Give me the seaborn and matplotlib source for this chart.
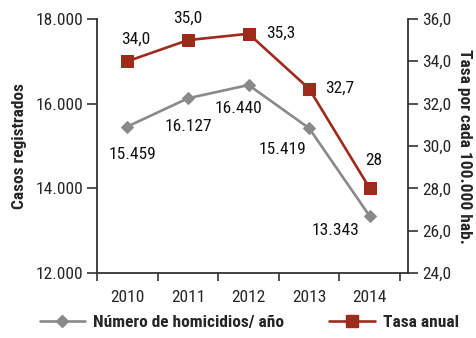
import matplotlib
matplotlib.use("Agg")
import matplotlib.pyplot as plt
import matplotlib.ticker as mticker
from matplotlib.lines import Line2D
import seaborn as sns
import pandas as pd

years = ["2010", "2011", "2012", "2013", "2014"]
homicidios = [15459, 16127, 16440, 15419, 13343]
homicidios_lbl = ["15.459", "16.127", "16.440", "15.419", "13.343"]
tasa = [34.0, 35.0, 35.3, 32.7, 28.0]
tasa_lbl = ["34,0", "35,0", "35,3", "32,7", "28"]

left_ticks = [12000, 14000, 16000, 18000]
left_tick_lbl = ["12.000", "14.000", "16.000", "18.000"]
right_ticks = [24, 26, 28, 30, 32, 34, 36]
right_tick_lbl = ["24,0", "26,0", "28,0", "30,0", "32,0", "34,0", "36,0"]

sns.set_theme(style="white")
plt.rcParams["font.family"] = ["Roboto Condensed", "Liberation Sans Narrow", "DejaVu Sans"]

GRAY = "#8a8a8a"
RED = "#9e2a1c"
FS = 12.5
LW = 1.9

df = pd.DataFrame({"year": years, "homicidios": homicidios, "tasa": tasa})

fig = plt.figure(figsize=(4.76, 3.38), dpi=100)
ax = fig.add_axes([0.204, 0.192, 0.653, 0.752])
ax2 = ax.twinx()

sns.lineplot(data=df, x="year", y="homicidios", ax=ax, color=GRAY, lw=LW,
             marker="D", markersize=6, markeredgecolor=GRAY, sort=False)
sns.lineplot(data=df, x="year", y="tasa", ax=ax2, color=RED, lw=LW,
             marker="s", markersize=9, markeredgecolor=RED, sort=False)

ax.set_ylim(12000, 18000)
ax2.set_ylim(24, 36)
ax.set_xlim(-0.5, 4.63)

ax.set_yticks(left_ticks)
ax.set_yticklabels(left_tick_lbl, fontsize=FS)
ax2.set_yticks(right_ticks)
ax2.set_yticklabels(right_tick_lbl, fontsize=FS)

ax.set_xticks(range(len(years)))
ax.set_xticklabels(years, fontsize=FS)
ax.xaxis.set_minor_locator(mticker.FixedLocator([-0.5, 0.5, 1.5, 2.5, 3.5, 4.5]))
ax.tick_params(axis="x", which="major", length=0, pad=12)
ax.tick_params(axis="x", which="minor", length=6, width=1.2, color="#333333", bottom=True)
ax.tick_params(axis="y", length=7, width=1.2, color="#333333", left=True, pad=3)
ax2.tick_params(axis="y", length=7, width=1.2, color="#333333", right=True, pad=3)

for a in (ax, ax2):
    for s in a.spines.values():
        s.set_visible(False)
    a.set_xlabel("")
ax.spines["left"].set_visible(True)
ax.spines["bottom"].set_visible(True)
ax2.spines["right"].set_visible(True)
for s in (ax.spines["left"], ax.spines["bottom"], ax2.spines["right"]):
    s.set_color("#333333")
    s.set_linewidth(1.3)

ax.set_ylabel("Casos registrados", fontsize=FS, fontweight="bold", labelpad=6)
ax2.set_ylabel("Tasa por cada 100.000 hab.", fontsize=FS, fontweight="bold",
               rotation=-90, labelpad=15)

# value annotations (offsets in points)
h_off = [(4, -20), (0, -20), (-7, -17), (-19, -15), (-25, -10)]
for i, (v, t) in enumerate(zip(homicidios, homicidios_lbl)):
    ax.annotate(t, (i, v), xytext=h_off[i], textcoords="offset points",
                ha="center", va="center", fontsize=FS, color="#111111")
t_off = [(6, 16), (0, 16), (23, 0), (22, 0), (3, 20)]
for i, (v, t) in enumerate(zip(tasa, tasa_lbl)):
    ax2.annotate(t, (i, v), xytext=t_off[i], textcoords="offset points",
                 ha="center", va="center", fontsize=FS, color="#111111")

handles = [
    Line2D([], [], color=GRAY, lw=LW, marker="D", markersize=6),
    Line2D([], [], color=RED, lw=LW, marker="s", markersize=9),
]
leg = fig.legend(handles, ["Número de homicidios/ año", "Tasa anual"],
                 loc="center", bbox_to_anchor=(0.524, 0.045), ncol=2,
                 frameon=False, handlelength=2.6, columnspacing=2.6,
                 handletextpad=0.5, borderpad=0, borderaxespad=0,
                 prop={"size": FS, "weight": "bold"})

fig.savefig("out.png", dpi=100)
